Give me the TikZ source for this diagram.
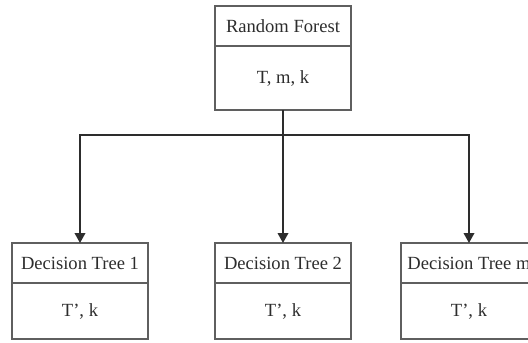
\documentclass[tikz,border=0pt]{standalone}
\usepackage{fontspec}
\setmainfont{Liberation Serif}
\usetikzlibrary{arrows.meta}
\definecolor{boxgray}{RGB}{95,95,95}
\definecolor{inkgray}{RGB}{45,45,45}

\begin{document}
\begin{tikzpicture}[
    x=0.0265cm, y=-0.0265cm,
    >={Triangle[width=8pt,length=7.5pt]},
    headbox/.style={
      rectangle, draw=boxgray, line width=1.2pt,
      minimum width=3.62cm, minimum height=1.06cm,
      inner sep=0pt, outer sep=0pt,
      text=inkgray, font=\fontsize{14}{16}\selectfont,
    },
    bodybox/.style={
      headbox, minimum height=1.48cm,
    },
    wire/.style={draw=inkgray, line width=1.1pt},
  ]
  \useasboundingbox (0,0) rectangle (528,342);

  % --- root: random forest ---
  \node[headbox] (rf) at (283, 26) {Random Forest};
  \node[bodybox, minimum height=1.70cm] (rfbody) at (283, 78) {T, m, k};
  \coordinate (hub) at (283, 135);

  % --- decision trees ---
  \foreach \tid/\x/\name in {1/80/1, 2/283/2, 3/469/m} {
    \node[headbox] (dt\tid) at (\x, 263) {Decision Tree \name};
    \node[bodybox] (dt\tid body) at (\x, 311) {T', k};
  }

  % --- connectors ---
  \draw[wire] (rfbody.south) -- (hub);
  \draw[wire, ->] (hub) -| (dt1.north);
  \draw[wire, ->] (hub) -- (dt2.north);
  \draw[wire, ->] (hub) -| (dt3.north);

\end{tikzpicture}
\end{document}
